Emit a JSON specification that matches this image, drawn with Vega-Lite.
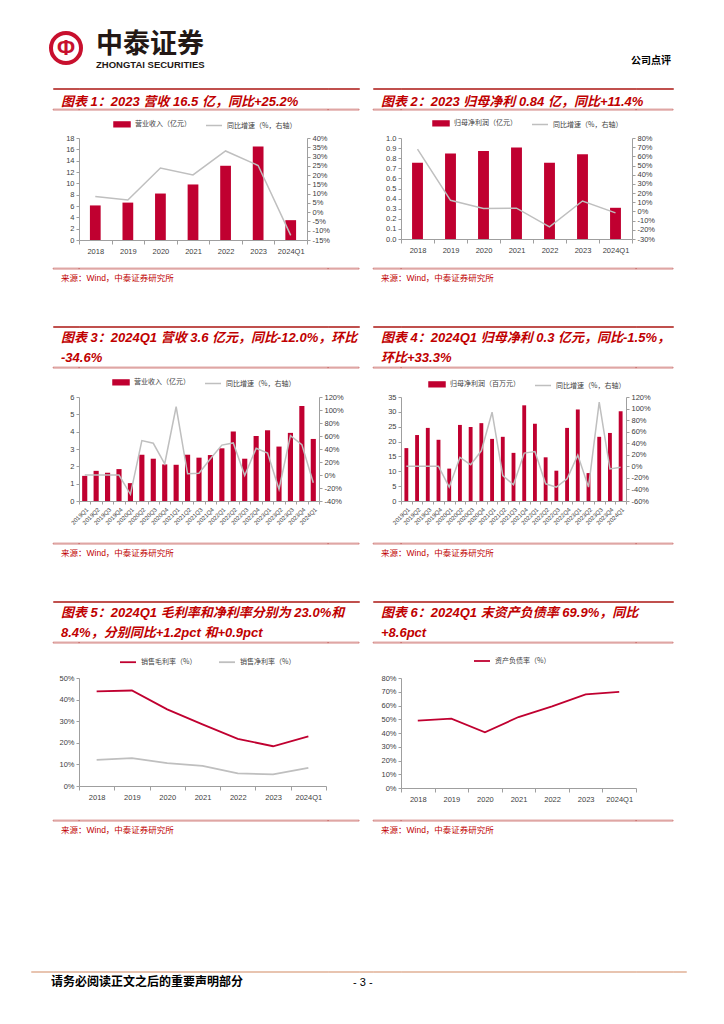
{
"$schema": "https://vega.github.io/schema/vega-lite/v6.json",
"padding": {"left": 30, "top": 0, "right": 0, "bottom": 0},
"background": "white",
"config": {
  "view": {"stroke": null},
  "font": "Liberation Sans",
  "axis": {"grid": false, "domainColor": "#9f9f9f", "tickColor": "#9f9f9f", "labelColor": "#404040", "labelFont": "Liberation Sans", "labelFontSize": 7.5, "tickSize": 3, "labelPadding": 2},
  "legend": {"direction": "horizontal", "labelFontSize": 7, "labelFont": "Noto Sans CJK SC", "labelColor": "#404040", "symbolSize": 256, "labelOffset": 4, "columnPadding": 12, "padding": 0, "orient": "none"},
  "title": {"font": "Liberation Sans, Noto Sans CJK SC"}
},
"datasets": {
  "c1": [
    {"period": "2018", "rev": 6.1, "yoy": 8.5},
    {"period": "2019", "rev": 6.6, "yoy": 6.6},
    {"period": "2020", "rev": 8.2, "yoy": 23.8},
    {"period": "2021", "rev": 9.8, "yoy": 20.1},
    {"period": "2022", "rev": 13.1, "yoy": 33.0},
    {"period": "2023", "rev": 16.5, "yoy": 25.2},
    {"period": "2024Q1", "rev": 3.5, "yoy": -12.5}
  ],
  "c2": [
    {"period": "2018", "np": 0.755, "yoy": 67.8},
    {"period": "2019", "np": 0.846, "yoy": 12.1},
    {"period": "2020", "np": 0.872, "yoy": 3.2},
    {"period": "2021", "np": 0.906, "yoy": 3.6},
    {"period": "2022", "np": 0.755, "yoy": -16.7},
    {"period": "2023", "np": 0.839, "yoy": 11.4},
    {"period": "2024Q1", "np": 0.309, "yoy": -1.5}
  ],
  "c3": [
    {"period": "2019Q1", "rev": 1.45, "yoy": 0},
    {"period": "2019Q2", "rev": 1.74, "yoy": 0},
    {"period": "2019Q3", "rev": 1.63, "yoy": 0},
    {"period": "2019Q4", "rev": 1.84, "yoy": 0},
    {"period": "2020Q1", "rev": 1.03, "yoy": -29.7},
    {"period": "2020Q2", "rev": 2.67, "yoy": 52.9},
    {"period": "2020Q3", "rev": 2.44, "yoy": 48.8},
    {"period": "2020Q4", "rev": 2.11, "yoy": 17.3},
    {"period": "2021Q1", "rev": 2.09, "yoy": 105},
    {"period": "2021Q2", "rev": 2.67, "yoy": 1.8},
    {"period": "2021Q3", "rev": 2.50, "yoy": 2.8},
    {"period": "2021Q4", "rev": 2.65, "yoy": 25},
    {"period": "2022Q1", "rev": 3.04, "yoy": 46},
    {"period": "2022Q2", "rev": 4.01, "yoy": 49.3},
    {"period": "2022Q3", "rev": 2.44, "yoy": -0.8},
    {"period": "2022Q4", "rev": 3.75, "yoy": 41},
    {"period": "2023Q1", "rev": 4.08, "yoy": 33.8},
    {"period": "2023Q2", "rev": 3.14, "yoy": -21.9},
    {"period": "2023Q3", "rev": 3.93, "yoy": 60.6},
    {"period": "2023Q4", "rev": 5.48, "yoy": 46.7},
    {"period": "2024Q1", "rev": 3.58, "yoy": -12.0}
  ],
  "c4": [
    {"period": "2019Q1", "np": 17.8, "yoy": 0},
    {"period": "2019Q2", "np": 22.2, "yoy": 0},
    {"period": "2019Q3", "np": 24.6, "yoy": 0},
    {"period": "2019Q4", "np": 20.6, "yoy": 0},
    {"period": "2020Q1", "np": 10.9, "yoy": -36},
    {"period": "2020Q2", "np": 25.6, "yoy": 15.4},
    {"period": "2020Q3", "np": 24.9, "yoy": 2.9},
    {"period": "2020Q4", "np": 26.2, "yoy": 26.9},
    {"period": "2021Q1", "np": 20.9, "yoy": 93.7},
    {"period": "2021Q2", "np": 21.6, "yoy": -16},
    {"period": "2021Q3", "np": 16.2, "yoy": -32},
    {"period": "2021Q4", "np": 32.2, "yoy": 22.9},
    {"period": "2022Q1", "np": 26.0, "yoy": 25.7},
    {"period": "2022Q2", "np": 14.7, "yoy": -30.3},
    {"period": "2022Q3", "np": 10.2, "yoy": -36},
    {"period": "2022Q4", "np": 24.6, "yoy": -21.7},
    {"period": "2023Q1", "np": 30.8, "yoy": 19.4},
    {"period": "2023Q2", "np": 9.4, "yoy": -36},
    {"period": "2023Q3", "np": 21.6, "yoy": 111},
    {"period": "2023Q4", "np": 22.9, "yoy": -4.6},
    {"period": "2024Q1", "np": 30.2, "yoy": -1.5}
  ],
  "c5": [
    {"period": "2018", "gross": 43.8, "net": 12.1},
    {"period": "2019", "gross": 44.2, "net": 12.9},
    {"period": "2020", "gross": 35.5, "net": 10.6},
    {"period": "2021", "gross": 28.5, "net": 9.3},
    {"period": "2022", "gross": 21.8, "net": 5.8},
    {"period": "2023", "gross": 18.4, "net": 5.4},
    {"period": "2024Q1", "gross": 23.0, "net": 8.4}
  ],
  "c6": [
    {"period": "2018", "debt": 49.0},
    {"period": "2019", "debt": 50.4},
    {"period": "2020", "debt": 40.5},
    {"period": "2021", "debt": 51.6},
    {"period": "2022", "debt": 59.4},
    {"period": "2023", "debt": 68.1},
    {"period": "2024Q1", "debt": 69.9}
  ]
},
"columns": 9,
"align": "each",
"bounds": "flush",
"spacing": 0,
"resolve": {"scale": {"color": "independent"}, "legend": {"color": "independent"}},
"concat": [
  {"width": 1, "height": 30, "data": {"values": []}, "mark": "point"},
  {"width": 1, "height": 1, "data": {"values": []}, "mark": "point"},
  {"width": 1, "height": 1, "data": {"values": []}, "mark": "point"},
  {"width": 1, "height": 1, "data": {"values": []}, "mark": "point"},
  {"width": 1, "height": 1, "data": {"values": []}, "mark": "point"},
  {"width": 1, "height": 1, "data": {"values": []}, "mark": "point"},
  {"width": 1, "height": 1, "data": {"values": []}, "mark": "point"},
  {"width": 1, "height": 1, "data": {"values": []}, "mark": "point"},
  {"width": 1, "height": 1, "data": {"values": []}, "mark": "point"},

  {"width": 1, "height": 1, "data": {"values": []}, "mark": "point"},
  {"width": 26, "height": 36, "data": {"values": [{}]}, "layer": [
    {"mark": {"type": "point", "shape": "circle", "size": 900, "filled": false, "stroke": "#c8102e", "strokeWidth": 4, "opacity": 1}},
    {"mark": {"type": "text", "text": "Φ", "fontSize": 22, "fontWeight": "bold", "color": "#c8102e", "baseline": "middle", "align": "center"}}
  ]},
  {"width": 1, "height": 1, "data": {"values": []}, "mark": "point"},
  {"width": 1, "height": 1, "data": {"values": []}, "mark": "point"},
  {"width": 1, "height": 1, "data": {"values": []}, "mark": "point"},
  {"width": 1, "height": 1, "data": {"values": []}, "mark": "point"},
  {"width": 1, "height": 1, "data": {"values": []}, "mark": "point"},
  {"width": 1, "height": 1, "data": {"values": []}, "mark": "point"},
  {"width": 1, "height": 1, "data": {"values": []}, "mark": "point"},

  {"width": 1, "height": 22, "data": {"values": []}, "mark": "point"},
  {"width": 1, "height": 1, "data": {"values": []}, "mark": "point"},
  {"width": 1, "height": 1, "data": {"values": []}, "mark": "point"},
  {"width": 1, "height": 1, "data": {"values": []}, "mark": "point"},
  {"width": 1, "height": 1, "data": {"values": []}, "mark": "point"},
  {"width": 1, "height": 1, "data": {"values": []}, "mark": "point"},
  {"width": 1, "height": 1, "data": {"values": []}, "mark": "point"},
  {"width": 1, "height": 1, "data": {"values": []}, "mark": "point"},
  {"width": 1, "height": 1, "data": {"values": []}, "mark": "point"},

  {"width": 22, "height": 1, "data": {"values": []}, "mark": "point"},
  {"width": 26, "height": 1, "data": {"values": []}, "mark": "point", "view": {"stroke": "#c0504d", "strokeWidth": 1},
   "title": {"text": "中泰证券", "subtitle": "ZHONGTAI SECURITIES", "orient": "top", "anchor": "start", "dx": 43, "offset": 18, "font": "Noto Sans CJK SC", "fontSize": 27, "fontWeight": "bold", "color": "#231815", "subtitleFont": "Liberation Sans", "subtitleFontSize": 9.5, "subtitleFontWeight": "bold", "subtitleColor": "#231815", "subtitlePadding": 1}},
  {"width": 249, "height": 1, "data": {"values": []}, "mark": "point", "view": {"stroke": "#c0504d", "strokeWidth": 1}},
  {"width": 31, "height": 1, "data": {"values": []}, "mark": "point", "view": {"stroke": "#c0504d", "strokeWidth": 1}},
  {"width": 14, "height": 1, "data": {"values": []}, "mark": "point"},
  {"width": 28, "height": 1, "data": {"values": []}, "mark": "point", "view": {"stroke": "#c0504d", "strokeWidth": 1}},
  {"width": 235, "height": 1, "data": {"values": []}, "mark": "point", "view": {"stroke": "#c0504d", "strokeWidth": 1}},
  {"width": 37, "height": 1, "data": {"values": []}, "mark": "point", "view": {"stroke": "#c0504d", "strokeWidth": 1},
   "title": {"text": "公司点评", "orient": "top", "anchor": "end", "dx": -2, "offset": 22, "font": "Noto Sans CJK SC", "fontSize": 10, "fontWeight": "bold", "color": "#000000"}},
  {"width": 13, "height": 1, "data": {"values": []}, "mark": "point"},

  {"width": 1, "height": 20, "data": {"values": []}, "mark": "point"},
  {"width": 1, "height": 1, "data": {"values": []}, "mark": "point"},
  {"width": 1, "height": 1, "data": {"values": []}, "mark": "point"},
  {"width": 1, "height": 1, "data": {"values": []}, "mark": "point"},
  {"width": 1, "height": 1, "data": {"values": []}, "mark": "point"},
  {"width": 1, "height": 1, "data": {"values": []}, "mark": "point"},
  {"width": 1, "height": 1, "data": {"values": []}, "mark": "point"},
  {"width": 1, "height": 1, "data": {"values": []}, "mark": "point"},
  {"width": 1, "height": 1, "data": {"values": []}, "mark": "point"},

  {"width": 22, "height": 1, "data": {"values": []}, "mark": "point"},
  {"width": 26, "height": 1, "data": {"values": []}, "mark": "point", "view": {"stroke": "#c0504d", "strokeWidth": 0.6},
   "title": {"text": "图表 1：2023 营收 16.5 亿，同比+25.2%", "anchor": "start", "orient": "top", "dx": 8, "offset": 0, "fontSize": 13, "fontWeight": "bold", "fontStyle": "italic", "color": "#c00000", "lineHeight": 20}},
  {"width": 249, "height": 1, "data": {"values": []}, "mark": "point", "view": {"stroke": "#c0504d", "strokeWidth": 0.6}},
  {"width": 31, "height": 1, "data": {"values": []}, "mark": "point", "view": {"stroke": "#c0504d", "strokeWidth": 0.6}},
  {"width": 14, "height": 1, "data": {"values": []}, "mark": "point"},
  {"width": 28, "height": 1, "data": {"values": []}, "mark": "point", "view": {"stroke": "#c0504d", "strokeWidth": 0.6},
   "title": {"text": "图表 2：2023 归母净利 0.84 亿，同比+11.4%", "anchor": "start", "orient": "top", "dx": 8, "offset": 0, "fontSize": 13, "fontWeight": "bold", "fontStyle": "italic", "color": "#c00000", "lineHeight": 20}},
  {"width": 235, "height": 1, "data": {"values": []}, "mark": "point", "view": {"stroke": "#c0504d", "strokeWidth": 0.6}},
  {"width": 37, "height": 1, "data": {"values": []}, "mark": "point", "view": {"stroke": "#c0504d", "strokeWidth": 0.6}},
  {"width": 13, "height": 1, "data": {"values": []}, "mark": "point"},

  {"width": 1, "height": 28, "data": {"values": []}, "mark": "point"},
  {"width": 1, "height": 1, "data": {"values": []}, "mark": "point"},
  {"width": 1, "height": 1, "data": {"values": []}, "mark": "point"},
  {"width": 1, "height": 1, "data": {"values": []}, "mark": "point"},
  {"width": 1, "height": 1, "data": {"values": []}, "mark": "point"},
  {"width": 1, "height": 1, "data": {"values": []}, "mark": "point"},
  {"width": 1, "height": 1, "data": {"values": []}, "mark": "point"},
  {"width": 1, "height": 1, "data": {"values": []}, "mark": "point"},
  {"width": 1, "height": 1, "data": {"values": []}, "mark": "point"},

  {"width": 1, "height": 1, "data": {"values": []}, "mark": "point"},
  {"width": 1, "height": 1, "data": {"values": []}, "mark": "point"},
  {"width": 228, "height": 102, "data": {"name": "c1"},
   "encoding": {"x": {"field": "period", "type": "nominal", "sort": null, "title": null, "scale": {"paddingInner": 0, "paddingOuter": 0}, "axis": {"labelAngle": 0, "tickBand": "extent", "tickSize": 4, "labelPadding": 3}}},
   "layer": [
     {"mark": {"type": "bar", "width": {"band": 0.33}},
      "encoding": {"y": {"field": "rev", "type": "quantitative", "title": null, "scale": {"domain": [0, 18], "nice": false}, "axis": {"values": [0, 2, 4, 6, 8, 10, 12, 14, 16, 18]}},
        "color": {"datum": "营业收入（亿元）", "type": "nominal", "scale": {"domain": ["营业收入（亿元）", "同比增速（%，右轴）"], "range": ["#c00030", "#bfbfbf"]},
          "legend": {"title": null, "legendX": 34, "legendY": -23, "encode": {"symbols": {"update": {"shape": {"signal": "datum.value === '同比增速（%，右轴）' ? 'M-1,0H1' : 'M-1,-0.3H1V0.3H-1Z'"}, "fill": {"signal": "datum.value === '同比增速（%，右轴）' ? 'transparent' : '#c00030'"}, "stroke": {"signal": "datum.value === '同比增速（%，右轴）' ? '#bfbfbf' : 'transparent'"}, "strokeWidth": {"value": 1.5}, "opacity": {"value": 1}}}}}}}},
     {"mark": {"type": "line", "strokeWidth": 1.5},
      "encoding": {"y": {"field": "yoy", "type": "quantitative", "title": null, "scale": {"domain": [-15, 40], "nice": false, "zero": false}, "axis": {"orient": "right", "values": [-15, -10, -5, 0, 5, 10, 15, 20, 25, 30, 35, 40], "labelExpr": "datum.value + '%'"}},
        "color": {"datum": "同比增速（%，右轴）", "type": "nominal", "scale": {"domain": ["营业收入（亿元）", "同比增速（%，右轴）"], "range": ["#c00030", "#bfbfbf"]},
          "legend": {"title": null, "legendX": 34, "legendY": -23, "encode": {"symbols": {"update": {"shape": {"signal": "datum.value === '同比增速（%，右轴）' ? 'M-1,0H1' : 'M-1,-0.3H1V0.3H-1Z'"}, "fill": {"signal": "datum.value === '同比增速（%，右轴）' ? 'transparent' : '#c00030'"}, "stroke": {"signal": "datum.value === '同比增速（%，右轴）' ? '#bfbfbf' : 'transparent'"}, "strokeWidth": {"value": 1.5}, "opacity": {"value": 1}}}}}}}}
   ],
   "resolve": {"scale": {"y": "independent"}}},
  {"width": 1, "height": 1, "data": {"values": []}, "mark": "point"},
  {"width": 1, "height": 1, "data": {"values": []}, "mark": "point"},
  {"width": 1, "height": 1, "data": {"values": []}, "mark": "point"},
  {"width": 231, "height": 101, "data": {"name": "c2"},
   "encoding": {"x": {"field": "period", "type": "nominal", "sort": null, "title": null, "scale": {"paddingInner": 0, "paddingOuter": 0}, "axis": {"labelAngle": 0, "tickBand": "extent", "tickSize": 4, "labelPadding": 3}}},
   "layer": [
     {"mark": {"type": "bar", "width": {"band": 0.33}},
      "encoding": {"y": {"field": "np", "type": "quantitative", "title": null, "scale": {"domain": [0, 1], "nice": false}, "axis": {"values": [0, 0.1, 0.2, 0.3, 0.4, 0.5, 0.6, 0.7, 0.8, 0.9, 1.0], "format": ".1f"}},
        "color": {"datum": "归母净利润（亿元）", "type": "nominal", "scale": {"domain": ["归母净利润（亿元）", "同比增速（%，右轴）"], "range": ["#c00030", "#bfbfbf"]},
          "legend": {"title": null, "legendX": 31, "legendY": -24, "encode": {"symbols": {"update": {"shape": {"signal": "datum.value === '同比增速（%，右轴）' ? 'M-1,0H1' : 'M-1,-0.3H1V0.3H-1Z'"}, "fill": {"signal": "datum.value === '同比增速（%，右轴）' ? 'transparent' : '#c00030'"}, "stroke": {"signal": "datum.value === '同比增速（%，右轴）' ? '#bfbfbf' : 'transparent'"}, "strokeWidth": {"value": 1.5}, "opacity": {"value": 1}}}}}}}},
     {"mark": {"type": "line", "strokeWidth": 1.5},
      "encoding": {"y": {"field": "yoy", "type": "quantitative", "title": null, "scale": {"domain": [-30, 80], "nice": false, "zero": false}, "axis": {"orient": "right", "values": [-30, -20, -10, 0, 10, 20, 30, 40, 50, 60, 70, 80], "labelExpr": "datum.value + '%'"}},
        "color": {"datum": "同比增速（%，右轴）", "type": "nominal", "scale": {"domain": ["归母净利润（亿元）", "同比增速（%，右轴）"], "range": ["#c00030", "#bfbfbf"]},
          "legend": {"title": null, "legendX": 31, "legendY": -24, "encode": {"symbols": {"update": {"shape": {"signal": "datum.value === '同比增速（%，右轴）' ? 'M-1,0H1' : 'M-1,-0.3H1V0.3H-1Z'"}, "fill": {"signal": "datum.value === '同比增速（%，右轴）' ? 'transparent' : '#c00030'"}, "stroke": {"signal": "datum.value === '同比增速（%，右轴）' ? '#bfbfbf' : 'transparent'"}, "strokeWidth": {"value": 1.5}, "opacity": {"value": 1}}}}}}}}
   ],
   "resolve": {"scale": {"y": "independent"}}},
  {"width": 1, "height": 1, "data": {"values": []}, "mark": "point"},
  {"width": 1, "height": 1, "data": {"values": []}, "mark": "point"},

  {"width": 1, "height": 28, "data": {"values": []}, "mark": "point"},
  {"width": 1, "height": 1, "data": {"values": []}, "mark": "point"},
  {"width": 1, "height": 1, "data": {"values": []}, "mark": "point"},
  {"width": 1, "height": 1, "data": {"values": []}, "mark": "point"},
  {"width": 1, "height": 1, "data": {"values": []}, "mark": "point"},
  {"width": 1, "height": 1, "data": {"values": []}, "mark": "point"},
  {"width": 1, "height": 1, "data": {"values": []}, "mark": "point"},
  {"width": 1, "height": 1, "data": {"values": []}, "mark": "point"},
  {"width": 1, "height": 1, "data": {"values": []}, "mark": "point"},

  {"width": 22, "height": 1, "data": {"values": []}, "mark": "point"},
  {"width": 26, "height": 1, "data": {"values": []}, "mark": "point", "view": {"stroke": "#c0504d", "strokeWidth": 0.6},
   "title": {"text": "来源：Wind，中泰证券研究所", "orient": "bottom", "anchor": "start", "dx": 8, "offset": 5, "fontSize": 8.5, "fontWeight": "normal", "color": "#c00000"}},
  {"width": 249, "height": 1, "data": {"values": []}, "mark": "point", "view": {"stroke": "#c0504d", "strokeWidth": 0.6}},
  {"width": 31, "height": 1, "data": {"values": []}, "mark": "point", "view": {"stroke": "#c0504d", "strokeWidth": 0.6}},
  {"width": 14, "height": 1, "data": {"values": []}, "mark": "point"},
  {"width": 28, "height": 1, "data": {"values": []}, "mark": "point", "view": {"stroke": "#c0504d", "strokeWidth": 0.6},
   "title": {"text": "来源：Wind，中泰证券研究所", "orient": "bottom", "anchor": "start", "dx": 8, "offset": 5, "fontSize": 8.5, "fontWeight": "normal", "color": "#c00000"}},
  {"width": 235, "height": 1, "data": {"values": []}, "mark": "point", "view": {"stroke": "#c0504d", "strokeWidth": 0.6}},
  {"width": 37, "height": 1, "data": {"values": []}, "mark": "point", "view": {"stroke": "#c0504d", "strokeWidth": 0.6}},
  {"width": 13, "height": 1, "data": {"values": []}, "mark": "point"},

  {"width": 1, "height": 57, "data": {"values": []}, "mark": "point"},
  {"width": 1, "height": 1, "data": {"values": []}, "mark": "point"},
  {"width": 1, "height": 1, "data": {"values": []}, "mark": "point"},
  {"width": 1, "height": 1, "data": {"values": []}, "mark": "point"},
  {"width": 1, "height": 1, "data": {"values": []}, "mark": "point"},
  {"width": 1, "height": 1, "data": {"values": []}, "mark": "point"},
  {"width": 1, "height": 1, "data": {"values": []}, "mark": "point"},
  {"width": 1, "height": 1, "data": {"values": []}, "mark": "point"},
  {"width": 1, "height": 1, "data": {"values": []}, "mark": "point"},

  {"width": 22, "height": 1, "data": {"values": []}, "mark": "point"},
  {"width": 26, "height": 1, "data": {"values": []}, "mark": "point", "view": {"stroke": "#c0504d", "strokeWidth": 1}},
  {"width": 249, "height": 1, "data": {"values": []}, "mark": "point", "view": {"stroke": "#c0504d", "strokeWidth": 1}},
  {"width": 31, "height": 1, "data": {"values": []}, "mark": "point", "view": {"stroke": "#c0504d", "strokeWidth": 1}},
  {"width": 14, "height": 1, "data": {"values": []}, "mark": "point"},
  {"width": 28, "height": 1, "data": {"values": []}, "mark": "point", "view": {"stroke": "#c0504d", "strokeWidth": 1}},
  {"width": 235, "height": 1, "data": {"values": []}, "mark": "point", "view": {"stroke": "#c0504d", "strokeWidth": 1}},
  {"width": 37, "height": 1, "data": {"values": []}, "mark": "point", "view": {"stroke": "#c0504d", "strokeWidth": 1}},
  {"width": 13, "height": 1, "data": {"values": []}, "mark": "point"},

  {"width": 1, "height": 40, "data": {"values": []}, "mark": "point"},
  {"width": 1, "height": 1, "data": {"values": []}, "mark": "point"},
  {"width": 1, "height": 1, "data": {"values": []}, "mark": "point"},
  {"width": 1, "height": 1, "data": {"values": []}, "mark": "point"},
  {"width": 1, "height": 1, "data": {"values": []}, "mark": "point"},
  {"width": 1, "height": 1, "data": {"values": []}, "mark": "point"},
  {"width": 1, "height": 1, "data": {"values": []}, "mark": "point"},
  {"width": 1, "height": 1, "data": {"values": []}, "mark": "point"},
  {"width": 1, "height": 1, "data": {"values": []}, "mark": "point"},

  {"width": 22, "height": 1, "data": {"values": []}, "mark": "point"},
  {"width": 26, "height": 1, "data": {"values": []}, "mark": "point", "view": {"stroke": "#c0504d", "strokeWidth": 0.6},
   "title": {"text": ["图表 3：2024Q1 营收 3.6 亿元，同比-12.0%，环比", "-34.6%"], "anchor": "start", "orient": "top", "dx": 8, "offset": 2, "fontSize": 13, "fontWeight": "bold", "fontStyle": "italic", "color": "#c00000", "lineHeight": 20}},
  {"width": 249, "height": 1, "data": {"values": []}, "mark": "point", "view": {"stroke": "#c0504d", "strokeWidth": 0.6}},
  {"width": 31, "height": 1, "data": {"values": []}, "mark": "point", "view": {"stroke": "#c0504d", "strokeWidth": 0.6}},
  {"width": 14, "height": 1, "data": {"values": []}, "mark": "point"},
  {"width": 28, "height": 1, "data": {"values": []}, "mark": "point", "view": {"stroke": "#c0504d", "strokeWidth": 0.6},
   "title": {"text": ["图表 4：2024Q1 归母净利 0.3 亿元，同比-1.5%，", "环比+33.3%"], "anchor": "start", "orient": "top", "dx": 8, "offset": 2, "fontSize": 13, "fontWeight": "bold", "fontStyle": "italic", "color": "#c00000", "lineHeight": 20}},
  {"width": 235, "height": 1, "data": {"values": []}, "mark": "point", "view": {"stroke": "#c0504d", "strokeWidth": 0.6}},
  {"width": 37, "height": 1, "data": {"values": []}, "mark": "point", "view": {"stroke": "#c0504d", "strokeWidth": 0.6}},
  {"width": 13, "height": 1, "data": {"values": []}, "mark": "point"},

  {"width": 1, "height": 29, "data": {"values": []}, "mark": "point"},
  {"width": 1, "height": 1, "data": {"values": []}, "mark": "point"},
  {"width": 1, "height": 1, "data": {"values": []}, "mark": "point"},
  {"width": 1, "height": 1, "data": {"values": []}, "mark": "point"},
  {"width": 1, "height": 1, "data": {"values": []}, "mark": "point"},
  {"width": 1, "height": 1, "data": {"values": []}, "mark": "point"},
  {"width": 1, "height": 1, "data": {"values": []}, "mark": "point"},
  {"width": 1, "height": 1, "data": {"values": []}, "mark": "point"},
  {"width": 1, "height": 1, "data": {"values": []}, "mark": "point"},

  {"width": 1, "height": 1, "data": {"values": []}, "mark": "point"},
  {"width": 1, "height": 1, "data": {"values": []}, "mark": "point"},
  {"width": 240, "height": 104, "data": {"name": "c3"},
   "encoding": {"x": {"field": "period", "type": "nominal", "sort": null, "title": null, "scale": {"paddingInner": 0, "paddingOuter": 0}, "axis": {"labelAngle": -45, "labelFontSize": 6, "tickBand": "extent", "tickSize": 3, "labelPadding": 2}}},
   "layer": [
     {"mark": {"type": "bar", "width": {"band": 0.45}},
      "encoding": {"y": {"field": "rev", "type": "quantitative", "title": null, "scale": {"domain": [0, 6], "nice": false}, "axis": {"values": [0, 1, 2, 3, 4, 5, 6]}},
        "color": {"datum": "营业收入（亿元）", "type": "nominal", "scale": {"domain": ["营业收入（亿元）", "同比增速（%，右轴）"], "range": ["#c00030", "#bfbfbf"]},
          "legend": {"title": null, "legendX": 33, "legendY": -24, "encode": {"symbols": {"update": {"shape": {"signal": "datum.value === '同比增速（%，右轴）' ? 'M-1,0H1' : 'M-1,-0.3H1V0.3H-1Z'"}, "fill": {"signal": "datum.value === '同比增速（%，右轴）' ? 'transparent' : '#c00030'"}, "stroke": {"signal": "datum.value === '同比增速（%，右轴）' ? '#bfbfbf' : 'transparent'"}, "strokeWidth": {"value": 1.5}, "opacity": {"value": 1}}}}}}}},
     {"mark": {"type": "line", "strokeWidth": 1.5},
      "encoding": {"y": {"field": "yoy", "type": "quantitative", "title": null, "scale": {"domain": [-40, 120], "nice": false, "zero": false}, "axis": {"orient": "right", "values": [-40, -20, 0, 20, 40, 60, 80, 100, 120], "labelExpr": "datum.value + '%'"}},
        "color": {"datum": "同比增速（%，右轴）", "type": "nominal", "scale": {"domain": ["营业收入（亿元）", "同比增速（%，右轴）"], "range": ["#c00030", "#bfbfbf"]},
          "legend": {"title": null, "legendX": 33, "legendY": -24, "encode": {"symbols": {"update": {"shape": {"signal": "datum.value === '同比增速（%，右轴）' ? 'M-1,0H1' : 'M-1,-0.3H1V0.3H-1Z'"}, "fill": {"signal": "datum.value === '同比增速（%，右轴）' ? 'transparent' : '#c00030'"}, "stroke": {"signal": "datum.value === '同比增速（%，右轴）' ? '#bfbfbf' : 'transparent'"}, "strokeWidth": {"value": 1.5}, "opacity": {"value": 1}}}}}}}}
   ],
   "resolve": {"scale": {"y": "independent"}}},
  {"width": 1, "height": 1, "data": {"values": []}, "mark": "point"},
  {"width": 1, "height": 1, "data": {"values": []}, "mark": "point"},
  {"width": 1, "height": 1, "data": {"values": []}, "mark": "point"},
  {"width": 225, "height": 104, "data": {"name": "c4"},
   "encoding": {"x": {"field": "period", "type": "nominal", "sort": null, "title": null, "scale": {"paddingInner": 0, "paddingOuter": 0}, "axis": {"labelAngle": -45, "labelFontSize": 6, "tickBand": "extent", "tickSize": 3, "labelPadding": 2}}},
   "layer": [
     {"mark": {"type": "bar", "width": {"band": 0.36}},
      "encoding": {"y": {"field": "np", "type": "quantitative", "title": null, "scale": {"domain": [0, 35], "nice": false}, "axis": {"values": [0, 5, 10, 15, 20, 25, 30, 35]}},
        "color": {"datum": "归母净利润（百万元）", "type": "nominal", "scale": {"domain": ["归母净利润（百万元）", "同比增速（%，右轴）"], "range": ["#c00030", "#bfbfbf"]},
          "legend": {"title": null, "legendX": 27, "legendY": -22, "encode": {"symbols": {"update": {"shape": {"signal": "datum.value === '同比增速（%，右轴）' ? 'M-1,0H1' : 'M-1,-0.3H1V0.3H-1Z'"}, "fill": {"signal": "datum.value === '同比增速（%，右轴）' ? 'transparent' : '#c00030'"}, "stroke": {"signal": "datum.value === '同比增速（%，右轴）' ? '#bfbfbf' : 'transparent'"}, "strokeWidth": {"value": 1.5}, "opacity": {"value": 1}}}}}}}},
     {"mark": {"type": "line", "strokeWidth": 1.5},
      "encoding": {"y": {"field": "yoy", "type": "quantitative", "title": null, "scale": {"domain": [-60, 120], "nice": false, "zero": false}, "axis": {"orient": "right", "values": [-60, -40, -20, 0, 20, 40, 60, 80, 100, 120], "labelExpr": "datum.value + '%'"}},
        "color": {"datum": "同比增速（%，右轴）", "type": "nominal", "scale": {"domain": ["归母净利润（百万元）", "同比增速（%，右轴）"], "range": ["#c00030", "#bfbfbf"]},
          "legend": {"title": null, "legendX": 27, "legendY": -22, "encode": {"symbols": {"update": {"shape": {"signal": "datum.value === '同比增速（%，右轴）' ? 'M-1,0H1' : 'M-1,-0.3H1V0.3H-1Z'"}, "fill": {"signal": "datum.value === '同比增速（%，右轴）' ? 'transparent' : '#c00030'"}, "stroke": {"signal": "datum.value === '同比增速（%，右轴）' ? '#bfbfbf' : 'transparent'"}, "strokeWidth": {"value": 1.5}, "opacity": {"value": 1}}}}}}}}
   ],
   "resolve": {"scale": {"y": "independent"}}},
  {"width": 1, "height": 1, "data": {"values": []}, "mark": "point"},
  {"width": 1, "height": 1, "data": {"values": []}, "mark": "point"},

  {"width": 1, "height": 42, "data": {"values": []}, "mark": "point"},
  {"width": 1, "height": 1, "data": {"values": []}, "mark": "point"},
  {"width": 1, "height": 1, "data": {"values": []}, "mark": "point"},
  {"width": 1, "height": 1, "data": {"values": []}, "mark": "point"},
  {"width": 1, "height": 1, "data": {"values": []}, "mark": "point"},
  {"width": 1, "height": 1, "data": {"values": []}, "mark": "point"},
  {"width": 1, "height": 1, "data": {"values": []}, "mark": "point"},
  {"width": 1, "height": 1, "data": {"values": []}, "mark": "point"},
  {"width": 1, "height": 1, "data": {"values": []}, "mark": "point"},

  {"width": 22, "height": 1, "data": {"values": []}, "mark": "point"},
  {"width": 26, "height": 1, "data": {"values": []}, "mark": "point", "view": {"stroke": "#c0504d", "strokeWidth": 0.6},
   "title": {"text": "来源：Wind，中泰证券研究所", "orient": "bottom", "anchor": "start", "dx": 8, "offset": 5, "fontSize": 8.5, "fontWeight": "normal", "color": "#c00000"}},
  {"width": 249, "height": 1, "data": {"values": []}, "mark": "point", "view": {"stroke": "#c0504d", "strokeWidth": 0.6}},
  {"width": 31, "height": 1, "data": {"values": []}, "mark": "point", "view": {"stroke": "#c0504d", "strokeWidth": 0.6}},
  {"width": 14, "height": 1, "data": {"values": []}, "mark": "point"},
  {"width": 28, "height": 1, "data": {"values": []}, "mark": "point", "view": {"stroke": "#c0504d", "strokeWidth": 0.6},
   "title": {"text": "来源：Wind，中泰证券研究所", "orient": "bottom", "anchor": "start", "dx": 8, "offset": 5, "fontSize": 8.5, "fontWeight": "normal", "color": "#c00000"}},
  {"width": 235, "height": 1, "data": {"values": []}, "mark": "point", "view": {"stroke": "#c0504d", "strokeWidth": 0.6}},
  {"width": 37, "height": 1, "data": {"values": []}, "mark": "point", "view": {"stroke": "#c0504d", "strokeWidth": 0.6}},
  {"width": 13, "height": 1, "data": {"values": []}, "mark": "point"},

  {"width": 1, "height": 57, "data": {"values": []}, "mark": "point"},
  {"width": 1, "height": 1, "data": {"values": []}, "mark": "point"},
  {"width": 1, "height": 1, "data": {"values": []}, "mark": "point"},
  {"width": 1, "height": 1, "data": {"values": []}, "mark": "point"},
  {"width": 1, "height": 1, "data": {"values": []}, "mark": "point"},
  {"width": 1, "height": 1, "data": {"values": []}, "mark": "point"},
  {"width": 1, "height": 1, "data": {"values": []}, "mark": "point"},
  {"width": 1, "height": 1, "data": {"values": []}, "mark": "point"},
  {"width": 1, "height": 1, "data": {"values": []}, "mark": "point"},

  {"width": 22, "height": 1, "data": {"values": []}, "mark": "point"},
  {"width": 26, "height": 1, "data": {"values": []}, "mark": "point", "view": {"stroke": "#c0504d", "strokeWidth": 1}},
  {"width": 249, "height": 1, "data": {"values": []}, "mark": "point", "view": {"stroke": "#c0504d", "strokeWidth": 1}},
  {"width": 31, "height": 1, "data": {"values": []}, "mark": "point", "view": {"stroke": "#c0504d", "strokeWidth": 1}},
  {"width": 14, "height": 1, "data": {"values": []}, "mark": "point"},
  {"width": 28, "height": 1, "data": {"values": []}, "mark": "point", "view": {"stroke": "#c0504d", "strokeWidth": 1}},
  {"width": 235, "height": 1, "data": {"values": []}, "mark": "point", "view": {"stroke": "#c0504d", "strokeWidth": 1}},
  {"width": 37, "height": 1, "data": {"values": []}, "mark": "point", "view": {"stroke": "#c0504d", "strokeWidth": 1}},
  {"width": 13, "height": 1, "data": {"values": []}, "mark": "point"},

  {"width": 1, "height": 40, "data": {"values": []}, "mark": "point"},
  {"width": 1, "height": 1, "data": {"values": []}, "mark": "point"},
  {"width": 1, "height": 1, "data": {"values": []}, "mark": "point"},
  {"width": 1, "height": 1, "data": {"values": []}, "mark": "point"},
  {"width": 1, "height": 1, "data": {"values": []}, "mark": "point"},
  {"width": 1, "height": 1, "data": {"values": []}, "mark": "point"},
  {"width": 1, "height": 1, "data": {"values": []}, "mark": "point"},
  {"width": 1, "height": 1, "data": {"values": []}, "mark": "point"},
  {"width": 1, "height": 1, "data": {"values": []}, "mark": "point"},

  {"width": 22, "height": 1, "data": {"values": []}, "mark": "point"},
  {"width": 26, "height": 1, "data": {"values": []}, "mark": "point", "view": {"stroke": "#c0504d", "strokeWidth": 0.6},
   "title": {"text": ["图表  5：2024Q1 毛利率和净利率分别为 23.0%和", "8.4%，分别同比+1.2pct 和+0.9pct"], "anchor": "start", "orient": "top", "dx": 8, "offset": 2, "fontSize": 13, "fontWeight": "bold", "fontStyle": "italic", "color": "#c00000", "lineHeight": 20}},
  {"width": 249, "height": 1, "data": {"values": []}, "mark": "point", "view": {"stroke": "#c0504d", "strokeWidth": 0.6}},
  {"width": 31, "height": 1, "data": {"values": []}, "mark": "point", "view": {"stroke": "#c0504d", "strokeWidth": 0.6}},
  {"width": 14, "height": 1, "data": {"values": []}, "mark": "point"},
  {"width": 28, "height": 1, "data": {"values": []}, "mark": "point", "view": {"stroke": "#c0504d", "strokeWidth": 0.6},
   "title": {"text": ["图表 6：2024Q1 末资产负债率 69.9%，同比", "+8.6pct"], "anchor": "start", "orient": "top", "dx": 8, "offset": 2, "fontSize": 13, "fontWeight": "bold", "fontStyle": "italic", "color": "#c00000", "lineHeight": 20}},
  {"width": 235, "height": 1, "data": {"values": []}, "mark": "point", "view": {"stroke": "#c0504d", "strokeWidth": 0.6}},
  {"width": 37, "height": 1, "data": {"values": []}, "mark": "point", "view": {"stroke": "#c0504d", "strokeWidth": 0.6}},
  {"width": 13, "height": 1, "data": {"values": []}, "mark": "point"},

  {"width": 1, "height": 35, "data": {"values": []}, "mark": "point"},
  {"width": 1, "height": 1, "data": {"values": []}, "mark": "point"},
  {"width": 1, "height": 1, "data": {"values": []}, "mark": "point"},
  {"width": 1, "height": 1, "data": {"values": []}, "mark": "point"},
  {"width": 1, "height": 1, "data": {"values": []}, "mark": "point"},
  {"width": 1, "height": 1, "data": {"values": []}, "mark": "point"},
  {"width": 1, "height": 1, "data": {"values": []}, "mark": "point"},
  {"width": 1, "height": 1, "data": {"values": []}, "mark": "point"},
  {"width": 1, "height": 1, "data": {"values": []}, "mark": "point"},

  {"width": 1, "height": 1, "data": {"values": []}, "mark": "point"},
  {"width": 1, "height": 1, "data": {"values": []}, "mark": "point"},
  {"width": 247, "height": 108, "data": {"name": "c5"},
   "encoding": {"x": {"field": "period", "type": "nominal", "sort": null, "title": null, "scale": {"paddingInner": 0, "paddingOuter": 0}, "axis": {"labelAngle": 0, "tickBand": "extent", "tickSize": 4, "labelPadding": 3}}},
   "layer": [
     {"mark": {"type": "line", "strokeWidth": 1.8},
      "encoding": {"y": {"field": "gross", "type": "quantitative", "title": null, "scale": {"domain": [0, 50], "nice": false}, "axis": {"values": [0, 10, 20, 30, 40, 50], "labelExpr": "datum.value + '%'"}},
        "color": {"datum": "销售毛利率（%）", "type": "nominal", "scale": {"domain": ["销售毛利率（%）", "销售净利率（%）"], "range": ["#c00030", "#bfbfbf"]},
          "legend": {"title": null, "legendX": 40, "legendY": -25, "symbolType": "stroke", "symbolStrokeWidth": 1.8, "columnPadding": 18}}}},
     {"mark": {"type": "line", "strokeWidth": 1.8},
      "encoding": {"y": {"field": "net", "type": "quantitative", "title": null, "axis": {"values": [0, 10, 20, 30, 40, 50], "labelExpr": "datum.value + '%'"}},
        "color": {"datum": "销售净利率（%）", "type": "nominal", "scale": {"domain": ["销售毛利率（%）", "销售净利率（%）"], "range": ["#c00030", "#bfbfbf"]},
          "legend": {"title": null, "legendX": 40, "legendY": -25, "symbolType": "stroke", "symbolStrokeWidth": 1.8, "columnPadding": 18}}}}
   ]},
  {"width": 1, "height": 1, "data": {"values": []}, "mark": "point"},
  {"width": 1, "height": 1, "data": {"values": []}, "mark": "point"},
  {"width": 1, "height": 1, "data": {"values": []}, "mark": "point"},
  {"width": 235, "height": 110, "data": {"name": "c6"},
   "encoding": {"x": {"field": "period", "type": "nominal", "sort": null, "title": null, "scale": {"paddingInner": 0, "paddingOuter": 0}, "axis": {"labelAngle": 0, "tickBand": "extent", "tickSize": 4, "labelPadding": 3}}},
   "layer": [
     {"mark": {"type": "line", "strokeWidth": 1.8},
      "encoding": {"y": {"field": "debt", "type": "quantitative", "title": null, "scale": {"domain": [0, 80], "nice": false}, "axis": {"values": [0, 10, 20, 30, 40, 50, 60, 70, 80], "labelExpr": "datum.value + '%'"}},
        "color": {"datum": "资产负债率（%）", "type": "nominal", "scale": {"domain": ["资产负债率（%）"], "range": ["#c00030"]},
          "legend": {"title": null, "legendX": 72, "legendY": -26, "symbolType": "stroke", "symbolStrokeWidth": 1.8}}}}
   ]},
  {"width": 1, "height": 1, "data": {"values": []}, "mark": "point"},
  {"width": 1, "height": 1, "data": {"values": []}, "mark": "point"},

  {"width": 1, "height": 32, "data": {"values": []}, "mark": "point"},
  {"width": 1, "height": 1, "data": {"values": []}, "mark": "point"},
  {"width": 1, "height": 1, "data": {"values": []}, "mark": "point"},
  {"width": 1, "height": 1, "data": {"values": []}, "mark": "point"},
  {"width": 1, "height": 1, "data": {"values": []}, "mark": "point"},
  {"width": 1, "height": 1, "data": {"values": []}, "mark": "point"},
  {"width": 1, "height": 1, "data": {"values": []}, "mark": "point"},
  {"width": 1, "height": 1, "data": {"values": []}, "mark": "point"},
  {"width": 1, "height": 1, "data": {"values": []}, "mark": "point"},

  {"width": 22, "height": 1, "data": {"values": []}, "mark": "point"},
  {"width": 26, "height": 1, "data": {"values": []}, "mark": "point", "view": {"stroke": "#c0504d", "strokeWidth": 0.6},
   "title": {"text": "来源：Wind，中泰证券研究所", "orient": "bottom", "anchor": "start", "dx": 8, "offset": 5, "fontSize": 8.5, "fontWeight": "normal", "color": "#c00000"}},
  {"width": 249, "height": 1, "data": {"values": []}, "mark": "point", "view": {"stroke": "#c0504d", "strokeWidth": 0.6}},
  {"width": 31, "height": 1, "data": {"values": []}, "mark": "point", "view": {"stroke": "#c0504d", "strokeWidth": 0.6}},
  {"width": 14, "height": 1, "data": {"values": []}, "mark": "point"},
  {"width": 28, "height": 1, "data": {"values": []}, "mark": "point", "view": {"stroke": "#c0504d", "strokeWidth": 0.6},
   "title": {"text": "来源：Wind，中泰证券研究所", "orient": "bottom", "anchor": "start", "dx": 8, "offset": 5, "fontSize": 8.5, "fontWeight": "normal", "color": "#c00000"}},
  {"width": 235, "height": 1, "data": {"values": []}, "mark": "point", "view": {"stroke": "#c0504d", "strokeWidth": 0.6}},
  {"width": 37, "height": 1, "data": {"values": []}, "mark": "point", "view": {"stroke": "#c0504d", "strokeWidth": 0.6}},
  {"width": 13, "height": 1, "data": {"values": []}, "mark": "point"},

  {"width": 1, "height": 150, "data": {"values": []}, "mark": "point"},
  {"width": 1, "height": 1, "data": {"values": []}, "mark": "point"},
  {"width": 1, "height": 1, "data": {"values": []}, "mark": "point"},
  {"width": 1, "height": 1, "data": {"values": []}, "mark": "point"},
  {"width": 1, "height": 1, "data": {"values": []}, "mark": "point"},
  {"width": 1, "height": 1, "data": {"values": []}, "mark": "point"},
  {"width": 1, "height": 1, "data": {"values": []}, "mark": "point"},
  {"width": 1, "height": 1, "data": {"values": []}, "mark": "point"},
  {"width": 1, "height": 1, "data": {"values": []}, "mark": "point"},

  {"width": 22, "height": 1, "data": {"values": []}, "mark": "point", "view": {"stroke": "#e8c4b0", "strokeWidth": 1},
   "title": {"text": "请务必阅读正文之后的重要声明部分", "orient": "bottom", "anchor": "start", "dx": 20, "offset": 5, "font": "Noto Sans CJK SC", "fontSize": 12, "fontWeight": "bold", "color": "#000000"}},
  {"width": 26, "height": 1, "data": {"values": []}, "mark": "point", "view": {"stroke": "#e8c4b0", "strokeWidth": 1}},
  {"width": 249, "height": 1, "data": {"values": []}, "mark": "point", "view": {"stroke": "#e8c4b0", "strokeWidth": 1}},
  {"width": 31, "height": 1, "data": {"values": []}, "mark": "point", "view": {"stroke": "#e8c4b0", "strokeWidth": 1},
   "title": {"text": "- 3 -", "orient": "bottom", "anchor": "start", "dx": 25, "offset": 5, "font": "Liberation Sans", "fontSize": 11, "fontWeight": "normal", "color": "#000000"}},
  {"width": 14, "height": 1, "data": {"values": []}, "mark": "point", "view": {"stroke": "#e8c4b0", "strokeWidth": 1}},
  {"width": 28, "height": 1, "data": {"values": []}, "mark": "point", "view": {"stroke": "#e8c4b0", "strokeWidth": 1}},
  {"width": 235, "height": 1, "data": {"values": []}, "mark": "point", "view": {"stroke": "#e8c4b0", "strokeWidth": 1}},
  {"width": 37, "height": 1, "data": {"values": []}, "mark": "point", "view": {"stroke": "#e8c4b0", "strokeWidth": 1}},
  {"width": 13, "height": 1, "data": {"values": []}, "mark": "point", "view": {"stroke": "#e8c4b0", "strokeWidth": 1}}
]
}
